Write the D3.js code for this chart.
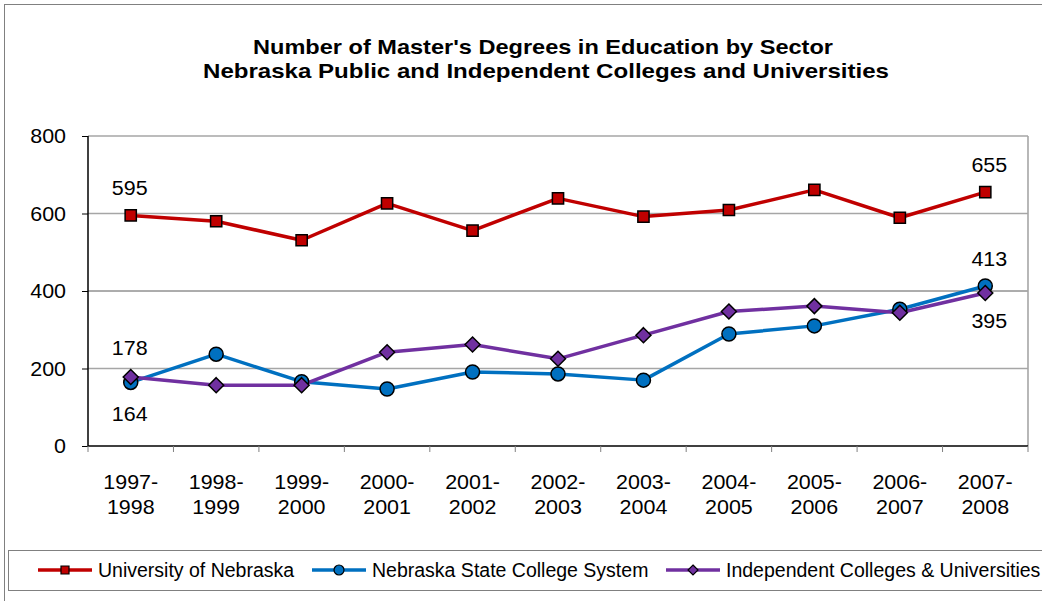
<!DOCTYPE html>
<html><head><meta charset="utf-8">
<script src="https://cdn.jsdelivr.net/npm/d3@7"></script>
<style>body{margin:0;background:#fff}svg{display:block;font-family:"Liberation Sans",Arial,sans-serif}</style>
</head><body>
<svg id="c" width="1042" height="601"></svg>
<script>
const categories = ["1997-1998","1998-1999","1999-2000","2000-2001","2001-2002","2002-2003","2003-2004","2004-2005","2005-2006","2006-2007","2007-2008"];
const univNebraska = [595,580,531,626,556,639,592,609,661,589,655];
const stateColleges = [164,237,166,147,191,186,170,289,310,353,413];
const independent = [178,157,157,242,262,225,286,347,361,344,395];
const yTicks = [0,200,400,600,800];
const seriesNames = ["University of Nebraska","Nebraska State College System","Independent Colleges & Universities"];
const colors = ["#C00000","#0070C0","#7030A0"];
const shapes = ["square","circle","diamond"];
const titleLines = ["Number of Master's Degrees in Education by Sector","Nebraska Public and Independent Colleges and Universities"];

const svg = d3.select("#c");
const L=88,R=1028,T=136,B=446;
const SX=1.1, FS=19.5;
const x = d3.scaleBand().domain(categories).range([L,R]);
const y = d3.scaleLinear().domain([0,800]).range([B,T]);

function stext(g,tx,ty,str,anchor){
  return g.append("text").attr("transform",`translate(${tx},${ty}) scale(${SX},1)`)
    .attr("text-anchor",anchor||"middle").attr("font-size",FS).attr("fill","#000").text(str);
}

// outer frame
svg.append("rect").attr("x",4.5).attr("y",4.5).attr("width",1100).attr("height",700).attr("fill","none").attr("stroke","#808080").attr("stroke-width",1);

// title
const tl = [{cx:543,by:54,len:580},{cx:546,by:78,len:686}];
svg.append("g").selectAll("text").data(titleLines).join("text")
  .attr("x",(d,i)=>tl[i].cx).attr("y",(d,i)=>tl[i].by).attr("text-anchor","middle")
  .attr("font-size",20.5).attr("font-weight","bold")
  .attr("textLength",(d,i)=>tl[i].len).attr("lengthAdjust","spacingAndGlyphs").text(d=>d);

// gridlines
svg.append("g").selectAll("line").data(yTicks.filter(d=>d>0)).join("line")
  .attr("x1",L).attr("x2",R).attr("y1",d=>y(d)).attr("y2",d=>y(d))
  .attr("stroke",d=>d===400?"#5a5a5a":"#a6a6a6").attr("stroke-width",d=>d===400?1:1.6);
// right border
svg.append("line").attr("x1",R).attr("x2",R).attr("y1",T).attr("y2",B).attr("stroke","#a6a6a6").attr("stroke-width",1.6);

// y axis
const ya = svg.append("g").attr("transform",`translate(${L},0)`)
  .call(d3.axisLeft(y).tickValues(yTicks).tickSize(6).tickFormat(""));
ya.select(".domain").attr("stroke","#000").attr("stroke-width",1.5).attr("d",`M0,${T}V${B}`);
ya.selectAll(".tick line").attr("stroke","#000");
const yl = svg.append("g");
yTicks.forEach(v=>stext(yl,66,y(v)+7,d3.format("d")(v),"end"));

// x axis
svg.append("line").attr("x1",L).attr("x2",R).attr("y1",B).attr("y2",B).attr("stroke","#000").attr("stroke-width",1.5);
const bounds = categories.map(c=>x(c)).concat([R]);
svg.append("g").selectAll("line").data(bounds).join("line")
  .attr("x1",d=>d).attr("x2",d=>d).attr("y1",B).attr("y2",B+6).attr("stroke","#808080");
const cx = c=>x(c)+x.bandwidth()/2;
const xl = svg.append("g");
categories.forEach(c=>{
  const p=c.split("-");
  stext(xl,cx(c),489,p[0]+"-");
  stext(xl,cx(c),514,p[1]);
});

function marker(shape,s){
  if(shape==="diamond") return `M0,${-s}L${s},0L0,${s}L${-s},0Z`;
  if(shape==="square") return `M${-s*0.8},${-s*0.8}H${s*0.8}V${s*0.8}H${-s*0.8}Z`;
  return d3.symbol().type(d3.symbolCircle).size(Math.PI*s*s)();
}
const msize = {square:7,circle:7,diamond:7.5};
const allSeries=[univNebraska,stateColleges,independent];
const line = d3.line().x((d,i)=>cx(categories[i])).y(d=>y(d));
allSeries.forEach((vals,si)=>{
  svg.append("path").datum(vals).attr("d",line).attr("fill","none").attr("stroke",colors[si]).attr("stroke-width",3.5).attr("stroke-linejoin","round");
});
allSeries.forEach((vals,si)=>{
  svg.append("g").selectAll("path").data(vals).join("path")
    .attr("transform",(d,i)=>`translate(${cx(categories[i])},${y(d)})`)
    .attr("d",marker(shapes[si],msize[shapes[si]]))
    .attr("fill",colors[si]).attr("stroke","#000").attr("stroke-width",1.5);
});

// data labels
const labels = [
  {s:0,i:0,dy:-20,dx:-1},{s:0,i:10,dy:-20,dx:4},
  {s:1,i:0,dy:39,dx:-1},{s:1,i:10,dy:-20,dx:4},
  {s:2,i:0,dy:-22,dx:-1},{s:2,i:10,dy:35,dx:4}
];
const dl = svg.append("g");
labels.forEach(d=>stext(dl,cx(categories[d.i])+d.dx,y(allSeries[d.s][d.i])+d.dy,String(allSeries[d.s][d.i])));

// legend
svg.append("rect").attr("x",8.5).attr("y",550.5).attr("width",1100).attr("height",40).attr("fill","none").attr("stroke","#808080");
const legX=[38,312,666];
seriesNames.forEach((n,i)=>{
  const g=svg.append("g").attr("transform",`translate(${legX[i]},570)`);
  g.append("line").attr("x1",0).attr("x2",54).attr("stroke",colors[i]).attr("stroke-width",3.5);
  g.append("path").attr("transform","translate(27,0)").attr("d",marker(shapes[i],5))
    .attr("fill",colors[i]).attr("stroke","#000").attr("stroke-width",1.2);
  g.append("text").attr("x",60).attr("y",7).attr("font-size",19.5).text(n);
});
</script>
</body></html>
